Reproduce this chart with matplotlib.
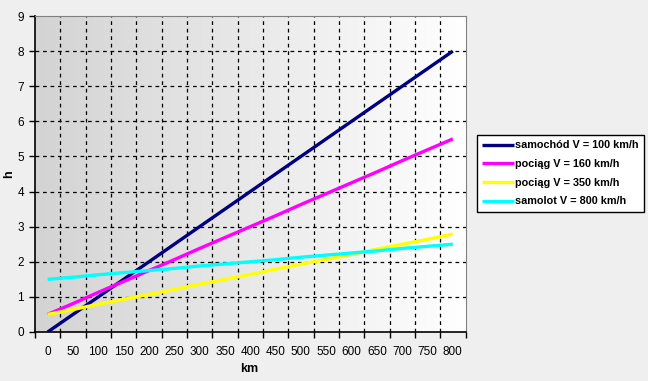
import numpy as np
import matplotlib.pyplot as plt
from matplotlib.colors import LinearSegmentedColormap

plt.rcParams["font.family"] = ["Liberation Sans", "DejaVu Sans"]

# distance categories (km)
km = [0, 50, 100, 150, 200, 250, 300, 350, 400, 450, 500, 550, 600, 650, 700, 750, 800]

# travel time (h)
samochod = [0.0, 0.5, 1.0, 1.5, 2.0, 2.5, 3.0, 3.5, 4.0, 4.5, 5.0, 5.5, 6.0, 6.5, 7.0, 7.5, 8.0]
pociag_160 = [0.5, 0.81, 1.13, 1.44, 1.75, 2.06, 2.38, 2.69, 3.0, 3.31, 3.63, 3.94, 4.25, 4.56, 4.88, 5.19, 5.5]
pociag_350 = [0.5, 0.64, 0.79, 0.93, 1.07, 1.21, 1.36, 1.5, 1.64, 1.79, 1.93, 2.07, 2.21, 2.36, 2.5, 2.64, 2.79]
samolot = [1.5, 1.56, 1.63, 1.69, 1.75, 1.81, 1.88, 1.94, 2.0, 2.06, 2.13, 2.19, 2.25, 2.31, 2.38, 2.44, 2.5]

series = [
    ("samochód V = 100 km/h", samochod, "#000080"),
    ("pociąg V = 160 km/h", pociag_160, "#ff00ff"),
    ("pociąg V = 350 km/h", pociag_350, "#ffff00"),
    ("samolot V = 800 km/h", samolot, "#00ffff"),
]

W, H = 648, 381
fig = plt.figure(figsize=(W / 100, H / 100), dpi=100)
fig.patch.set_facecolor("#efefef")
ax = fig.add_axes([35 / W, (H - 332) / H, (465.5 - 35) / W, (332 - 16) / H])

n = len(km)
idx = np.arange(n)

# gradient background of the plot area (dark grey left -> white right)
cmap = LinearSegmentedColormap.from_list("bg", ["#d3d3d3", "#ffffff"])
ax.imshow(np.linspace(0, 1, 256).reshape(1, -1), cmap=cmap, aspect="auto",
          extent=(-0.5, n - 0.5, 0, 9), zorder=0)

for label, vals, color in series:
    ax.plot(idx, vals, color=color, lw=2.4, label=label, zorder=3,
            solid_capstyle="butt")

ax.set_xlim(-0.5, n - 0.5)
ax.set_ylim(0, 9)
ax.set_xticks(idx)
ax.set_xticklabels([str(k) for k in km], fontsize=8.5)
ax.set_xticks(np.arange(-0.5, n, 1.0), minor=True)
ax.tick_params(axis="x", which="major", length=0, pad=10)
ax.tick_params(axis="x", which="minor", length=4, width=1, color="black", direction="out")
ax.set_yticks(range(10))
ax.tick_params(axis="y", length=4, width=1, direction="out", labelsize=8.5, pad=4)

# dashed grid
for k in range(1, n):
    ax.axvline(k - 0.5, color="black", lw=0.9, ls=(0, (3, 3)), zorder=1)
for y in range(1, 9):
    ax.axhline(y, color="black", lw=0.9, ls=(0, (3, 3)), zorder=1)

for side in ["top", "right"]:
    ax.spines[side].set_color("#808080")
    ax.spines[side].set_linewidth(0.8)
for side in ["left", "bottom"]:
    ax.spines[side].set_color("black")
    ax.spines[side].set_linewidth(1.2)

fig.text(9 / W, 1 - 174 / H, "h", fontsize=9, fontweight="bold", rotation=90,
         ha="center", va="center")
fig.text(249 / W, 1 - 369 / H, "km", fontsize=9, fontweight="bold", ha="center", va="center")

leg = fig.legend(loc="upper left", bbox_to_anchor=(477 / W, 1 - 135 / H),
                 frameon=True, fancybox=False, prop={"weight": "bold", "size": 7.8},
                 handlelength=2.9, handletextpad=0.1, borderpad=0.5,
                 labelspacing=0.8, borderaxespad=0)
leg.get_frame().set_edgecolor("black")
leg.get_frame().set_linewidth(1.0)
leg.get_frame().set_facecolor("white")
leg.get_frame().set_alpha(1)

fig.savefig("out.png", dpi=100, facecolor=fig.get_facecolor())
